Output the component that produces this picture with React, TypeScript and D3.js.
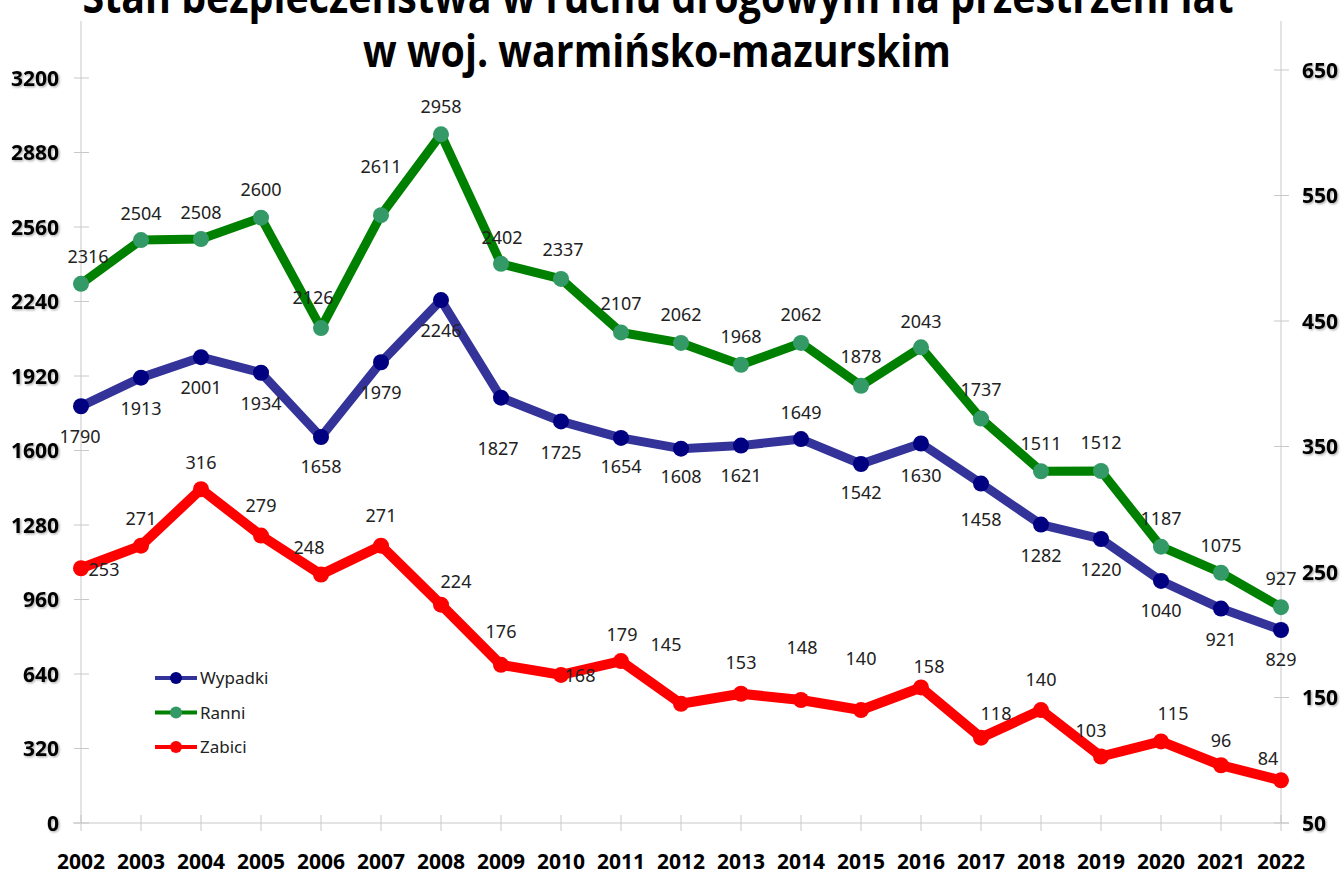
import React from "react";
import * as d3 from "d3";

const years = [2002, 2003, 2004, 2005, 2006, 2007, 2008, 2009, 2010, 2011, 2012, 2013, 2014, 2015, 2016, 2017, 2018, 2019, 2020, 2021, 2022];
const wypadki = [1790, 1913, 2001, 1934, 1658, 1979, 2246, 1827, 1725, 1654, 1608, 1621, 1649, 1542, 1630, 1458, 1282, 1220, 1040, 921, 829];
const ranni = [2316, 2504, 2508, 2600, 2126, 2611, 2958, 2402, 2337, 2107, 2062, 1968, 2062, 1878, 2043, 1737, 1511, 1512, 1187, 1075, 927];
const zabici = [253, 271, 316, 279, 248, 271, 224, 176, 168, 179, 145, 153, 148, 140, 158, 118, 140, 103, 115, 96, 84];
const leftTicks = [0, 320, 640, 960, 1280, 1600, 1920, 2240, 2560, 2880, 3200];
const rightTicks = [50, 150, 250, 350, 450, 550, 650];
const titleLines = ["Stan bezpieczeństwa w ruchu drogowym na przestrzeni lat", "w woj. warmińsko-mazurskim"];

// label offsets (layout only)
const wypLabelOff: [number, number][] = [[-1, 30], [0, 31], [0, 30], [0, 31], [0, 30], [0, 30], [0, 30], [-3, 51], [0, 31], [0, 29], [0, 28], [0, 30], [0, -27], [0, 29], [0, 32], [0, 36], [0, 31], [0, 31], [0, 30], [0, 31], [0, 30]];
const ranLabelOff: [number, number][] = [[7, -27], [0, -27], [0, -27], [0, -28], [-8, -31], [0, -49], [0, -28], [1, -26], [2, -29], [0, -29], [0, -28], [0, -28], [0, -28], [0, -29], [0, -26], [0, -29], [0, -28], [0, -28], [0, -28], [0, -27], [0, -29]];
const zabLabelOff: [number, number][] = [[23, 1], [0, -27], [0, -27], [0, -30], [-12, -27], [0, -30], [15, -23], [0, -33], [19, 1], [1, -27], [-15, -59], [0, -31], [1, -52], [0, -52], [8, -21], [15, -24], [0, -31], [-10, -26], [12, -28], [0, -25], [-13, -22]];

const W = 1344;
const H = 872;
const plotTop = 21;
const plotBottom = 823;

export default function App() {
  const x = d3.scaleLinear().domain([2002, 2022]).range([81, 1281]);
  const yL = d3.scaleLinear().domain([0, 3200]).range([823, 78]);
  const yR = d3.scaleLinear().domain([50, 650]).range([823, 70]);

  const lineL = d3.line<number>().x((_, i) => x(years[i])).y((d) => yL(d));
  const lineR = d3.line<number>().x((_, i) => x(years[i])).y((d) => yR(d));

  const series = [
    { name: "Wypadki", data: wypadki, y: yL, line: lineL, stroke: "#333399", marker: "#000080", off: wypLabelOff, width: 9 },
    { name: "Ranni", data: ranni, y: yL, line: lineL, stroke: "#008000", marker: "#339966", off: ranLabelOff, width: 9 },
    { name: "Zabici", data: zabici, y: yR, line: lineR, stroke: "#FF0000", marker: "#FF0000", off: zabLabelOff, width: 10 },
  ];

  const axisColor = "#c8c8c8";
  const tickFont = { fontFamily: "'Open Sans', 'Noto Sans', sans-serif", fontWeight: 700, fontSize: 21, fill: "#000" } as const;
  const labelFont = { fontFamily: "'Noto Sans', 'Open Sans', sans-serif", fontSize: 18, fill: "#222" } as const;

  return (
    <svg width={W} height={H} style={{ position: "absolute", left: 0, top: 0, background: "#fff" }}>
      <defs>
        <filter id="sh" x="-20%" y="-20%" width="140%" height="140%">
          <feDropShadow dx="1.2" dy="1.2" stdDeviation="0.8" floodColor="#000" floodOpacity="0.35" />
        </filter>
      </defs>
      <rect x={0} y={0} width={W} height={H} fill="#fff" />

      {/* title */}
      {titleLines.map((t, i) => (
        <text
          key={t}
          x={i === 0 ? 658 : 657}
          y={i === 0 ? 13 : 67}
          textAnchor="middle"
          textLength={i === 0 ? 1151 : 588}
          lengthAdjust="spacingAndGlyphs"
          style={{ fontFamily: "'Open Sans', 'Noto Sans', sans-serif", fontWeight: 700, fontSize: 45, fill: "#000" }}
        >
          {t}
        </text>
      ))}

      {/* axes */}
      <line x1={x(2002)} x2={x(2002)} y1={plotTop} y2={plotBottom} stroke={axisColor} />
      <line x1={x(2022)} x2={x(2022)} y1={plotTop} y2={plotBottom} stroke={axisColor} />
      <line x1={x(2002) - 8} x2={x(2022) + 8} y1={plotBottom} y2={plotBottom} stroke={axisColor} />
      {leftTicks.map((t) => (
        <g key={"l" + t}>
          <line x1={x(2002) - 7} x2={x(2002) + 8} y1={yL(t)} y2={yL(t)} stroke={axisColor} />
          <text x={59} y={yL(t)} dy="0.36em" textAnchor="end" style={tickFont} filter="url(#sh)">
            {t}
          </text>
        </g>
      ))}
      {rightTicks.map((t) => (
        <g key={"r" + t}>
          <line x1={x(2022) - 7} x2={x(2022) + 8} y1={yR(t)} y2={yR(t)} stroke={axisColor} />
          <text x={1302} y={yR(t)} dy="0.36em" textAnchor="start" style={tickFont} filter="url(#sh)">
            {t}
          </text>
        </g>
      ))}
      {years.map((yr) => (
        <g key={"x" + yr}>
          <line x1={x(yr)} x2={x(yr)} y1={plotBottom - 8} y2={plotBottom + 8} stroke={axisColor} />
          <text x={x(yr)} y={869} textAnchor="middle" style={tickFont}>
            {yr}
          </text>
        </g>
      ))}

      {/* lines */}
      {series.map((s) => (
        <g key={s.name}>
          <path d={s.line(s.data) || ""} fill="none" stroke={s.stroke} strokeWidth={s.width} strokeLinejoin="round" strokeLinecap="round" />
          {s.data.map((v, i) => (
            <circle key={i} cx={x(years[i])} cy={s.y(v)} r={8} fill={s.marker} />
          ))}
        </g>
      ))}

      {/* labels */}
      {series.map((s) => (
        <g key={s.name + "lab"}>
          {s.data.map((v, i) => (
            <text key={i} x={x(years[i]) + s.off[i][0]} y={s.y(v) + s.off[i][1]} dy="0.36em" textAnchor="middle" style={labelFont}>
              {v}
            </text>
          ))}
        </g>
      ))}

      {/* legend */}
      {series.map((s, i) => {
        const ly = 678 + i * 34.5;
        return (
          <g key={s.name + "leg"}>
            <line x1={155} x2={197} y1={ly} y2={ly} stroke={s.stroke} strokeWidth={4} />
            <circle cx={176} cy={ly} r={6} fill={s.marker} />
            <text x={200} y={ly} dy="0.36em" style={{ ...labelFont, fontSize: 17 }}>
              {s.name}
            </text>
          </g>
        );
      })}
    </svg>
  );
}
